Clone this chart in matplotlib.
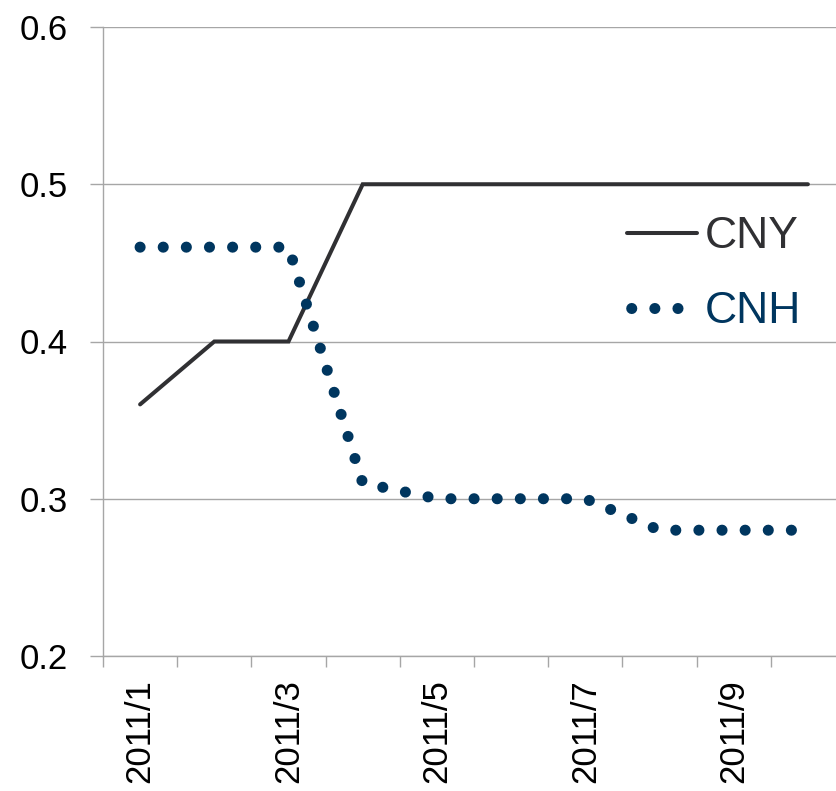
import matplotlib
matplotlib.use('Agg')
import matplotlib.pyplot as plt
from matplotlib.lines import Line2D
import numpy as np

plt.rcParams['font.family'] = ['Liberation Sans', 'DejaVu Sans']

# monthly data
months = ['2011/1', '2011/2', '2011/3', '2011/4', '2011/5',
          '2011/6', '2011/7', '2011/8', '2011/9', '2011/10']
cny = [0.36, 0.40, 0.40, 0.50, 0.50, 0.50, 0.50, 0.50, 0.50, 0.50]
cnh = [0.46, 0.46, 0.46, 0.31, 0.30, 0.30, 0.30, 0.28, 0.28, 0.28]
y_ticks = [0.2, 0.3, 0.4, 0.5, 0.6]

cny_color = '#303033'
cnh_color = '#00365f'
grid_color = '#a6a6a6'

fig = plt.figure(figsize=(8.36, 7.91), dpi=100)
# axes run past the right edge, as in the source image (cropped)
ax = fig.add_axes([103 / 836, 1 - 656 / 791, 742 / 836, 629 / 791])

x = np.arange(len(months))
ax.plot(x, cny, color=cny_color, linewidth=2.9, solid_capstyle='round',
        solid_joinstyle='miter', zorder=3)
ax.plot(x, cnh, color=cnh_color, linewidth=8, linestyle=(0, (0.001, 2.08)),
        dash_capstyle='round', zorder=4)

ax.set_xlim(-0.5, len(months) - 0.5)
ax.set_ylim(0.2, 0.6)
ax.set_yticks(y_ticks)
ax.set_yticklabels(['%.1f' % v for v in y_ticks], fontsize=25)
ax.yaxis.grid(True, color=grid_color, linewidth=1.0)
ax.set_axisbelow(True)

# category ticks between months, labels on every other month
ax.set_xticks(np.arange(len(months)) - 0.5, minor=False)
ax.set_xticklabels([])
ax.set_xticks(x[::2], minor=True)
ax.set_xticklabels(months[::2], minor=True, rotation=90, fontsize=25)
ax.tick_params(axis='x', which='major', length=8, width=1, color=grid_color,
               direction='out')
ax.tick_params(axis='x', which='minor', length=0, pad=17)
ax.tick_params(axis='y', length=9.5, width=1, color=grid_color, pad=16)

for side in ['top', 'right']:
    ax.spines[side].set_visible(False)
for side in ['left', 'bottom']:
    ax.spines[side].set_color(grid_color)
    ax.spines[side].set_linewidth(1.0)

handles = [
    Line2D([], [], color=cny_color, linewidth=2.9, solid_capstyle='round'),
    Line2D([], [], color=cnh_color, linewidth=8,
           linestyle=(1.7, (0.001, 2.08)), dash_capstyle='round'),
]
leg = ax.legend(handles, ['CNY', 'CNH'], loc='upper left',
                bbox_to_anchor=(0.706, 0.699), frameon=False, fontsize=32,
                handlelength=1.57, handletextpad=0.18, labelspacing=0.76,
                borderpad=0, borderaxespad=0)
for text, col in zip(leg.get_texts(), [cny_color, cnh_color]):
    text.set_color(col)

plt.savefig('out.png', dpi=100)
